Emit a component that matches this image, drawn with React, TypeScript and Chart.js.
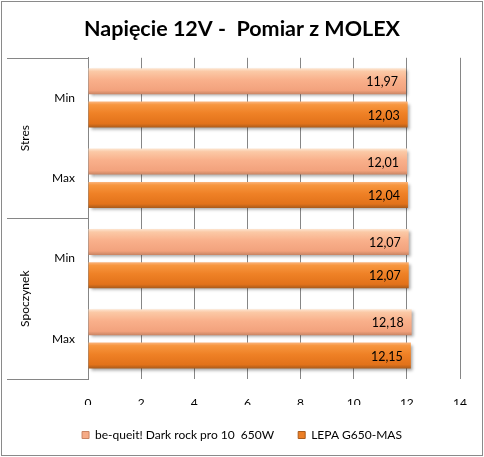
import React, { useEffect, useRef } from 'react';
import { Chart, registerables } from 'chart.js';

Chart.register(...registerables);

// ---- data ----
const titleText = 'Napięcie 12V -  Pomiar z MOLEX';
const groupLabels = ['Stres', 'Spoczynek'];
const groupSizes = [2, 2];
const categoryLabels = ['Min', 'Max', 'Min', 'Max'];
const seriesNames = ['be-queit! Dark rock pro 10  650W', 'LEPA G650-MAS'];
const beQuietValues = [11.97, 12.01, 12.07, 12.18];
const lepaValues = [12.03, 12.04, 12.07, 12.15];
const xMin = 0;
const xMax = 14;
const xStep = 2;

const FONT = 'Lato, "Open Sans", sans-serif';

const lightStops: [number, string][] = [
  [0, '#FDE6D2'],
  [0.12, '#FBC9A6'],
  [0.45, '#F9B08B'],
  [0.85, '#F2A27D'],
  [1, '#C98463'],
];
const darkStops: [number, string][] = [
  [0, '#FBB57E'],
  [0.12, '#F7963F'],
  [0.45, '#EF8126'],
  [0.85, '#E2721A'],
  [1, '#A95B1B'],
];
const solidColors = ['#F6AB86', '#EC7E24'];
const edgeColors = ['#C98463', '#A95B1B'];

const fmt = (v: number) => v.toFixed(2).replace('.', ',');

const barStylePlugin = {
  id: 'barStyle',
  beforeDatasetsDraw(chart: any) {
    const ctx = chart.ctx;
    chart.data.datasets.forEach((_ds: any, di: number) => {
      const meta = chart.getDatasetMeta(di);
      const stops = di === 0 ? lightStops : darkStops;
      meta.data.forEach((el: any) => {
        const top = el.y - el.height / 2;
        const bottom = el.y + el.height / 2;
        const g = ctx.createLinearGradient(0, top, 0, bottom);
        stops.forEach(([o, c]) => g.addColorStop(o, c));
        el.options = Object.assign({}, el.options, { backgroundColor: g });
      });
    });
    ctx.save();
    ctx.shadowColor = 'rgba(0,0,0,0.35)';
    ctx.shadowOffsetX = 2;
    ctx.shadowOffsetY = 2;
    ctx.shadowBlur = 3;
  },
  afterDatasetsDraw(chart: any) {
    const ctx = chart.ctx;
    ctx.restore();
    ctx.save();
    ctx.font = `12.5px ${FONT}`;
    ctx.fillStyle = '#000';
    ctx.textAlign = 'right';
    ctx.textBaseline = 'middle';
    chart.data.datasets.forEach((ds: any, di: number) => {
      const meta = chart.getDatasetMeta(di);
      meta.data.forEach((el: any, i: number) => {
        ctx.fillText(fmt(ds.data[i]), el.x - 8, el.y + 1);
      });
    });
    ctx.restore();
  },
};

const groupAxisPlugin = {
  id: 'groupAxis',
  afterDraw(chart: any) {
    const ctx = chart.ctx;
    const y = chart.scales.y;
    const area = chart.chartArea;
    const leftX = 7;
    ctx.save();
    ctx.strokeStyle = '#868686';
    ctx.lineWidth = 1;
    const bounds: number[] = [area.top];
    let idx = 0;
    groupSizes.forEach((n, gi) => {
      idx += n;
      if (gi < groupSizes.length - 1) {
        bounds.push((y.getPixelForValue(idx - 1) + y.getPixelForValue(idx)) / 2);
      }
    });
    bounds.push(area.bottom);
    bounds.forEach((b) => {
      const yy = Math.round(b) + 0.5;
      ctx.beginPath();
      ctx.moveTo(leftX, yy);
      ctx.lineTo(area.left, yy);
      ctx.stroke();
    });
    ctx.fillStyle = '#000';
    ctx.font = `12px ${FONT}`;
    ctx.textAlign = 'center';
    ctx.textBaseline = 'middle';
    groupLabels.forEach((lab, gi) => {
      const cy = (bounds[gi] + bounds[gi + 1]) / 2;
      ctx.save();
      ctx.translate(25, cy);
      ctx.rotate(-Math.PI / 2);
      ctx.fillText(lab, 0, 0);
      ctx.restore();
    });
    ctx.strokeStyle = '#8A8A8A';
    ctx.strokeRect(1.5, 1.5, chart.width - 3, chart.height - 3);
    ctx.restore();
  },
};

export default function App() {
  const ref = useRef<HTMLCanvasElement>(null);
  useEffect(() => {
    document.body.style.margin = '0';
    const canvas = ref.current!;
    const chart = new Chart(canvas, {
      type: 'bar',
      data: {
        labels: categoryLabels,
        datasets: [
          {
            label: seriesNames[0],
            data: beQuietValues,
            backgroundColor: () => solidColors[0],
            borderWidth: 0,
            categoryPercentage: 0.83,
            barPercentage: 0.78,
          },
          {
            label: seriesNames[1],
            data: lepaValues,
            backgroundColor: () => solidColors[1],
            borderWidth: 0,
            categoryPercentage: 0.83,
            barPercentage: 0.78,
          },
        ],
      },
      options: {
        indexAxis: 'y',
        animation: false,
        responsive: true,
        maintainAspectRatio: false,
        layout: { padding: { left: 7, right: 7, top: 1, bottom: 6 } },
        scales: {
          x: {
            min: xMin,
            max: xMax,
            ticks: {
              stepSize: xStep,
              color: '#000',
              font: { family: FONT, size: 12 },
              padding: 17,
            },
            grid: { color: '#868686', drawTicks: false },
            border: { display: false },
            afterFit: (scale: any) => {
              scale.height = 26;
            },
          },
          y: {
            ticks: {
              color: '#000',
              font: { family: FONT, size: 12 },
              padding: 13,
            },
            grid: { display: false, drawTicks: false },
            border: { display: true, color: '#868686' },
            afterFit: (scale: any) => {
              scale.width = 81;
            },
          },
          yRightSpace: {
            type: 'linear',
            position: 'right',
            display: true,
            ticks: { display: false },
            grid: { display: false, drawTicks: false },
            border: { display: false },
            afterFit: (scale: any) => {
              scale.width = 17;
            },
          },
        },
        plugins: {
          title: {
            display: true,
            text: titleText,
            color: '#000',
            font: { family: FONT, size: 21.5, weight: 'bold' },
            padding: { top: 15, bottom: 16 },
          },
          legend: {
            position: 'bottom',
            labels: {
              color: '#000',
              font: { family: FONT, size: 12 },
              boxWidth: 7,
              boxHeight: 7,
              padding: 24,
              generateLabels: (ch: any) =>
                ch.data.datasets.map((ds: any, i: number) => ({
                  text: ds.label,
                  fillStyle: solidColors[i],
                  strokeStyle: edgeColors[i],
                  lineWidth: 1,
                  datasetIndex: i,
                  hidden: false,
                })),
            },
          },
          tooltip: { enabled: false },
        },
      },
      plugins: [barStylePlugin, groupAxisPlugin],
    } as any);
    return () => chart.destroy();
  }, []);
  return (
    <div style={{ position: 'absolute', left: 0, top: 0, width: 484, height: 457 }}>
      <canvas ref={ref} />
    </div>
  );
}
